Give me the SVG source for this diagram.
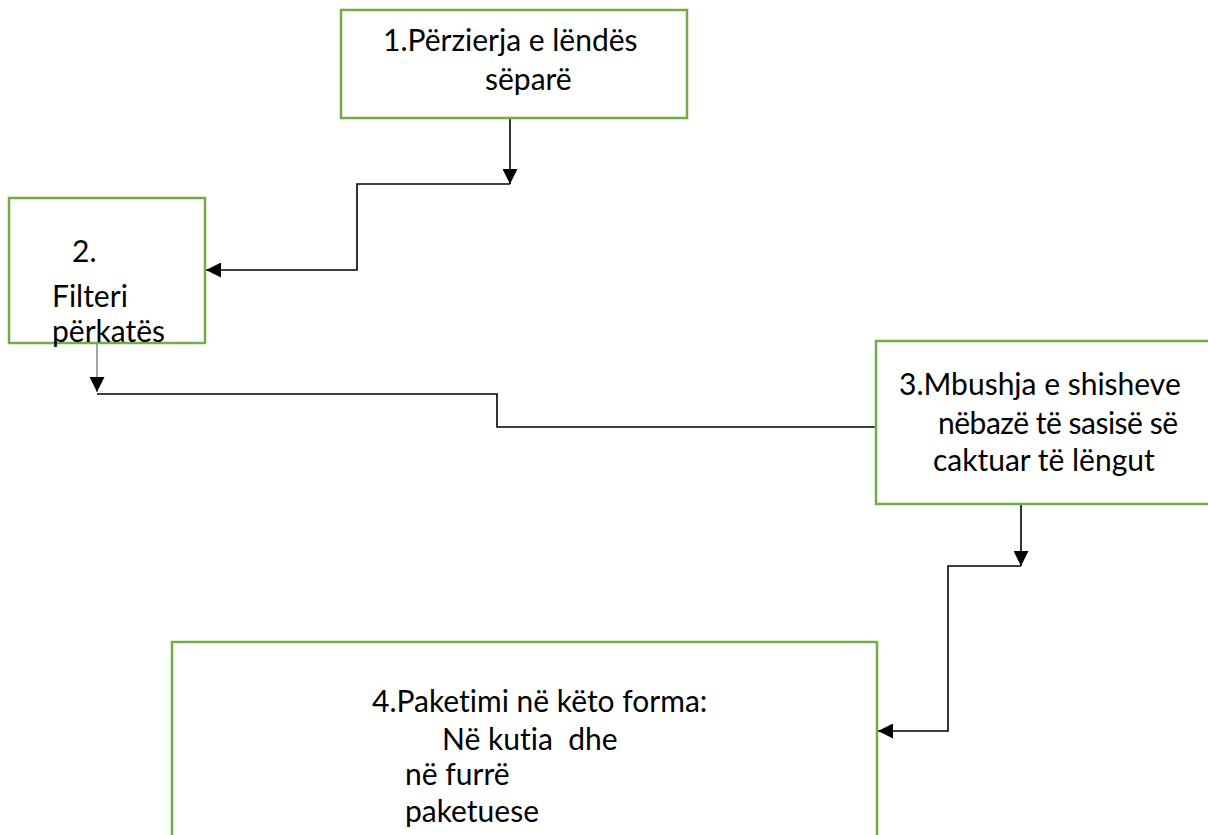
<svg xmlns="http://www.w3.org/2000/svg" width="1208" height="835" viewBox="0 0 1208 835">
  <style>
    .box { fill: #ffffff; stroke: #70AD47; stroke-width: 2.5; }
    .lbl { font-family: Lato, "Liberation Sans", sans-serif; font-size: 30px; fill: #000000; white-space: pre; font-variant-ligatures: none; }
    .con { fill: none; stroke: #000000; stroke-width: 1.6; }
    .con-gray { fill: none; stroke: #8c8c8c; stroke-width: 1.6; }
  </style>
  <defs>
    <marker id="arrow" markerUnits="userSpaceOnUse" markerWidth="16" markerHeight="15" refX="15" refY="7.5" orient="auto" viewBox="0 0 16 15">
      <path d="M0,0 L15,7.5 L0,15 Z" fill="#000000"/>
    </marker>
  </defs>
  <rect width="1208" height="835" fill="#ffffff"/>

  <g id="connectors">
    <path class="con" d="M510,118 V184" marker-end="url(#arrow)"/>
    <path class="con" d="M510,184 H357 V270 H206" marker-end="url(#arrow)"/>
    <path class="con-gray" d="M97,344 V392" marker-end="url(#arrow)"/>
    <path class="con" d="M97,394 H497 V427 H876"/>
    <path class="con" d="M1021,505 V566" marker-end="url(#arrow)"/>
    <path class="con" d="M1021,566 H948 V731 H878" marker-end="url(#arrow)"/>
  </g>

  <g id="node1">
    <rect class="box" x="341" y="10" width="346" height="108"/>
    <text class="lbl" x="383" y="51">1.Përzierja e lëndës</text>
    <text class="lbl" x="485" y="90">sëparë</text>
  </g>

  <g id="node2">
    <rect class="box" x="9" y="198" width="196" height="145"/>
    <text class="lbl" x="72" y="262">2.</text>
    <text class="lbl" x="52" y="307">Filteri</text>
    <text class="lbl" x="52" y="342">përkatës</text>
  </g>

  <g id="node3">
    <rect class="box" x="876" y="341" width="340" height="163"/>
    <text class="lbl" x="899" y="395">3.Mbushja e shisheve</text>
    <text class="lbl" x="938" y="434" textLength="240">nëbazë të sasisë së</text>
    <text class="lbl" x="933" y="471">caktuar të lëngut</text>
  </g>

  <g id="node4">
    <rect class="box" x="172" y="642" width="705" height="210"/>
    <text class="lbl" x="372" y="712">4.Paketimi në këto forma:</text>
    <text class="lbl" x="442" y="750">Në kutia  dhe</text>
    <text class="lbl" x="405" y="785">në furrë</text>
    <text class="lbl" x="405" y="822">paketuese</text>
  </g>
</svg>
